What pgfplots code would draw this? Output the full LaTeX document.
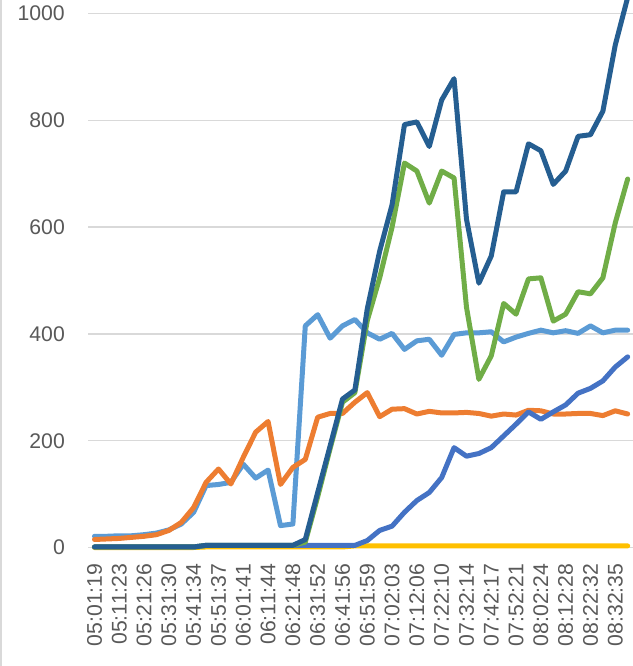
\documentclass[border=0pt]{standalone}
\usepackage{pgfplots}
\pgfplotsset{compat=1.18}
\usepackage{fontspec}
\setmainfont{Liberation Sans}
\definecolor{cLB}{HTML}{5B9BD5}
\definecolor{cOR}{HTML}{ED7D31}
\definecolor{cYL}{HTML}{FFC000}
\definecolor{cMB}{HTML}{4472C4}
\definecolor{cGR}{HTML}{70AD47}
\definecolor{cDB}{HTML}{255E91}
\definecolor{cGrid}{HTML}{D9D9D9}
\definecolor{cTxt}{HTML}{595959}
\begin{document}
\begin{tikzpicture}
\begin{axis}[
  scale only axis,
  width=544.7bp, height=547.5bp,
  xmin=-0.5, xmax=43.43,
  ymin=0, ymax=1025.3,
  clip=false,
  axis line style={draw=none},
  major tick length=0pt,
  ytick={0,200,400,600,800,1000},
  ymajorgrids,
  grid style={cGrid, line width=1.5bp},
  xtick={0,2,...,42},
  xticklabels={05:01:19,05:11:23,05:21:26,05:31:30,05:41:34,05:51:37,06:01:41,06:11:44,06:21:48,06:31:52,06:41:56,06:51:59,07:02:03,07:12:06,07:22:10,07:32:14,07:42:17,07:52:21,08:02:24,08:12:28,08:22:32,08:32:35},
  /pgf/number format/assume math mode=true,
  /pgf/number format/1000 sep={},
  ticklabel style={font=\fontsize{21.2bp}{24bp}\selectfont, text=cTxt},
  xticklabel style={rotate=90, anchor=east, inner sep=0pt},
  xticklabel shift=16bp,
  yticklabel style={anchor=east, inner sep=0pt},
  yticklabel shift=23.3bp,
  every axis plot/.append style={line width=5bp, line join=round, line cap=round},
]
% light blue
\addplot[cLB] coordinates {
(0,21)(1,21)(2,22)(3,22)(4,24)(5,27)(6,33)(7,44)(8,66)(9,116)(10,118)(11,122)(12,156)(13,130)(14,145)(15,41)(16,44)(17,415)(18,436)(19,392)(20,415)(21,427)(22,402)(23,390)(24,401)(25,371)(26,387)(27,390)(28,360)(29,399)(30,402)(31,402)(32,404)(33,385)(34,394)(35,401)(36,407)(37,402)(38,406)(39,401)(40,415)(41,402)(42,407)(43,407)};
% orange
\addplot[cOR] coordinates {
(0,15)(1,16)(2,17)(3,19)(4,21)(5,24)(6,32)(7,47)(8,75)(9,122)(10,147)(11,119)(12,169)(13,216)(14,236)(15,118)(16,150)(17,165)(18,244)(19,251)(20,251)(21,272)(22,290)(23,245)(24,259)(25,260)(26,250)(27,255)(28,252)(29,252)(30,253)(31,251)(32,246)(33,250)(34,248)(35,257)(36,256)(37,250)(38,250)(39,251)(40,251)(41,247)(42,256)(43,250)};
% yellow
\addplot[cYL] coordinates {
(0,0)(1,0)(2,0)(3,0)(4,0)(5,0)(6,0)(7,0)(8,0)(9,1)(10,1)(11,1)(12,1)(13,1)(14,1)(15,1)(16,1)(17,1)(18,1)(19,1)(20,1)(21,3)(22,3)(23,3)(24,3)(25,3)(26,3)(27,3)(28,3)(29,3)(30,3)(31,3)(32,3)(33,3)(34,3)(35,3)(36,3)(37,3)(38,3)(39,3)(40,3)(41,3)(42,3)(43,3)};
% medium blue
\addplot[cMB] coordinates {
(0,1)(1,1)(2,1)(3,1)(4,1)(5,1)(6,1)(7,1)(8,1)(9,4)(10,4)(11,4)(12,4)(13,4)(14,4)(15,4)(16,4)(17,4)(18,4)(19,4)(20,4)(21,4)(22,13)(23,32)(24,40)(25,66)(26,88)(27,103)(28,131)(29,187)(30,171)(31,176)(32,187)(33,209)(34,231)(35,254)(36,240)(37,254)(38,267)(39,289)(40,298)(41,312)(42,338)(43,357)};
% green
\addplot[cGR] coordinates {
(0,1)(1,1)(2,1)(3,1)(4,1)(5,1)(6,1)(7,1)(8,1)(9,4)(10,4)(11,4)(12,4)(13,4)(14,4)(15,4)(16,4)(17,10)(18,95)(19,185)(20,272)(21,290)(22,425)(23,505)(24,600)(25,720)(26,705)(27,645)(28,705)(29,692)(30,450)(31,315)(32,359)(33,457)(34,437)(35,503)(36,505)(37,424)(38,437)(39,479)(40,475)(41,505)(42,608)(43,690)};
% dark blue
\addplot[cDB] coordinates {
(0,1)(1,1)(2,1)(3,1)(4,1)(5,1)(6,1)(7,1)(8,1)(9,4)(10,4)(11,4)(12,4)(13,4)(14,4)(15,4)(16,4)(17,15)(18,103)(19,190)(20,278)(21,295)(22,447)(23,555)(24,642)(25,792)(26,797)(27,751)(28,838)(29,878)(30,615)(31,495)(32,546)(33,666)(34,666)(35,756)(36,743)(37,680)(38,705)(39,770)(40,773)(41,817)(42,941)(43,1030)};
\end{axis}
\pgfresetboundingbox
\useasboundingbox (-88.3bp,-118.5bp) rectangle (544.7bp,547.5bp);
\draw[cGrid, line width=1.5bp] (-87.5bp,-118.5bp) -- (-87.5bp,547.5bp);
\end{tikzpicture}
\end{document}
